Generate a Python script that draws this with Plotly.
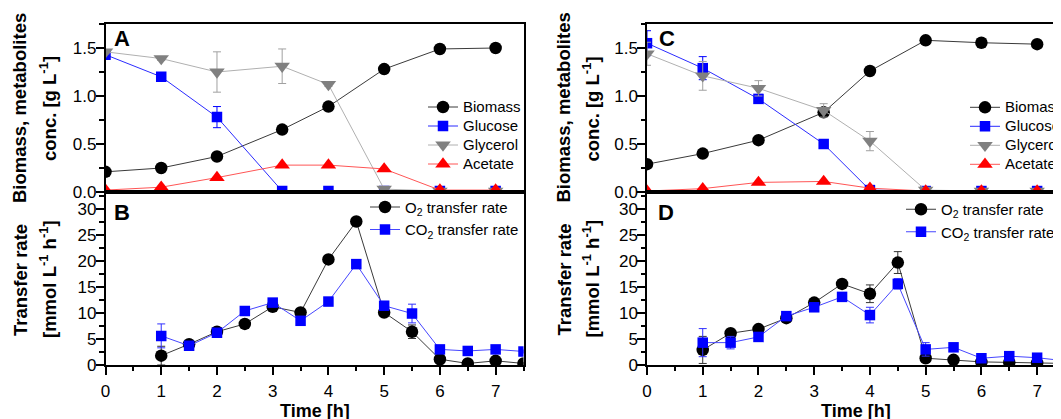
import plotly.graph_objects as go

# ---------------- data ----------------
time_met = [0, 1, 2, 3.17, 4, 5, 6, 7]
time_rate = [1, 1.5, 2, 2.5, 3, 3.5, 4, 4.5, 5, 5.5, 6, 6.5, 7, 7.5]

# Panel A
a_biomass = [0.21, 0.25, 0.37, 0.65, 0.89, 1.28, 1.49, 1.50]
a_biomass_err = [0.01, 0.01, 0.02, 0.02, 0.02, 0.02, 0.02, 0.02]
a_glucose = [1.43, 1.20, 0.78, 0.01, 0.01, 0.01, 0.01, 0.01]
a_glucose_err = [0.02, 0.03, 0.11, 0.01, 0.0, 0.0, 0.0, 0.0]
a_glycerol = [1.46, 1.39, 1.25, 1.31, 1.12, 0.03, 0.01, 0.01]
a_glycerol_err = [0.02, 0.02, 0.21, 0.18, 0.02, 0.01, 0.0, 0.0]
a_acetate = [0.02, 0.05, 0.15, 0.28, 0.28, 0.24, 0.02, 0.02]

# Panel B
b_o2 = [1.8, 4.0, 6.4, 7.9, 11.2, 10.1, 20.3, 27.6, 10.1, 6.4, 1.1, 0.3, 0.8, 0.3]
b_o2_err = [1.8, 0.3, 0.3, 0.3, 0.3, 0.3, 0.3, 0.3, 0.3, 1.3, 0.3, 0.2, 0.2, 0.2]
b_co2 = [5.6, 3.7, 6.2, 10.4, 12.0, 8.5, 12.2, 19.4, 11.4, 9.9, 3.0, 2.7, 3.0, 2.6]
b_co2_err = [2.3, 0.3, 0.3, 0.3, 0.3, 0.3, 0.3, 0.3, 0.5, 1.8, 0.3, 0.3, 0.3, 0.3]

# Panel C
c_biomass = [0.29, 0.40, 0.54, 0.83, 1.26, 1.58, 1.555, 1.54]
c_biomass_err = [0.01, 0.01, 0.02, 0.02, 0.02, 0.02, 0.02, 0.02]
c_glucose = [1.55, 1.29, 0.97, 0.50, 0.02, 0.01, 0.01, 0.01]
c_glucose_err = [0.13, 0.12, 0.04, 0.02, 0.01, 0.0, 0.0, 0.0]
c_glycerol = [1.44, 1.21, 1.08, 0.85, 0.53, 0.02, 0.01, 0.01]
c_glycerol_err = [0.12, 0.15, 0.08, 0.07, 0.10, 0.01, 0.0, 0.0]
c_acetate = [0.01, 0.035, 0.10, 0.11, 0.04, 0.01, 0.01, 0.01]

# Panel D
d_o2 = [2.9, 6.1, 6.9, 9.0, 12.0, 15.6, 13.7, 19.7, 1.3, 1.0, 0.6, 0.5, 0.4, 0.3]
d_o2_err = [2.6, 0.3, 0.3, 0.3, 0.3, 0.3, 1.7, 2.1, 0.3, 0.2, 0.2, 0.2, 0.2, 0.2]
d_co2 = [4.3, 4.3, 5.4, 9.4, 11.1, 13.1, 9.6, 15.6, 3.0, 3.4, 1.3, 1.7, 1.4, 0.8]
d_co2_err = [2.7, 1.2, 0.3, 0.3, 0.3, 0.3, 1.5, 1.0, 1.3, 0.3, 0.3, 0.3, 0.3, 0.3]

met_names = ["Biomass", "Glucose", "Glycerol", "Acetate"]
rate_names = ["O<sub>2</sub> transfer rate", "CO<sub>2</sub> transfer rate"]
panel_letters = ["A", "B", "C", "D"]

# ---------------- layout helpers ----------------
W, H = 1061, 419
OFF = 8  # default page margin of the html body
FONT = "Liberation Sans, Arial, Helvetica, sans-serif"


def fx(p):
    return (p - OFF) / W


def fy(p):
    return 1 - (p - OFF) / H


fig = go.Figure()

met_style = [
    dict(mc="#000000", lc="#3a3a3a", ec="#000000", sym="circle", size=12.5),
    dict(mc="#0000ff", lc="#2b2bff", ec="#0000ff", sym="square", size=10.5),
    dict(mc="#808080", lc="#b0b0b0", ec="#a0a0a0", sym="triangle-down", size=13.5),
    dict(mc="#ff0000", lc="#ff5555", ec="#ff0000", sym="triangle-up", size=13.5),
]
rate_style = [
    dict(mc="#000000", lc="#3a3a3a", ec="#333333", sym="circle", size=12.5),
    dict(mc="#0000ff", lc="#4646ff", ec="#3030ff", sym="square", size=10.5),
]


def add(x, y, err, name, st, xa, ya, legend):
    ed = dict(visible=False)
    if err is not None:
        ed = dict(type="data", array=err, visible=True, color=st["ec"], thickness=1, width=4)
    fig.add_trace(go.Scatter(
        x=x, y=y, mode="lines+markers", name=name,
        line=dict(color=st["lc"], width=1),
        marker=dict(symbol=st["sym"], size=st["size"], color=st["mc"], line=dict(width=0)),
        error_y=ed, xaxis=xa, yaxis=ya, legend=legend,
    ))


def legname(n):
    return '<span style="font-size:15px">' + n + "</span>"


# Panel A
a_series = [(a_biomass, a_biomass_err), (a_glucose, a_glucose_err),
            (a_glycerol, a_glycerol_err), (a_acetate, None)]
for (vals, err), nm, st in zip(a_series, met_names, met_style):
    add(time_met, vals, err, legname(nm), st, "x", "y", "legend")

# Panel B
for (vals, err), nm, st in zip([(b_o2, b_o2_err), (b_co2, b_co2_err)], rate_names, rate_style):
    add(time_rate, vals, err, nm, st, "x2", "y2", "legend2")

# Panel C
c_series = [(c_biomass, c_biomass_err), (c_glucose, c_glucose_err),
            (c_glycerol, c_glycerol_err), (c_acetate, None)]
for (vals, err), nm, st in zip(c_series, met_names, met_style):
    add(time_met, vals, err, legname(nm), st, "x3", "y3", "legend3")

# Panel D
for (vals, err), nm, st in zip([(d_o2, d_o2_err), (d_co2, d_co2_err)], rate_names, rate_style):
    add(time_rate, vals, err, nm, st, "x4", "y4", "legend4")

# ---------------- axes ----------------
TICKFONT = dict(family=FONT, size=17, color="black")
common = dict(showline=True, linecolor="black", linewidth=1.5, showgrid=False, zeroline=False,
              tickcolor="black", tickwidth=1.5, ticklen=8, tickfont=TICKFONT)
minor_x = dict(dtick=0.5, ticklen=4.5, tickwidth=1.5, ticks="outside", tickcolor="black", showgrid=False)
minor_ya = dict(dtick=0.25, ticklen=4.5, tickwidth=1.5, ticks="outside", tickcolor="black")
minor_yb = dict(dtick=2.5, ticklen=4.5, tickwidth=1.5, ticks="outside", tickcolor="black")

dom_left = [fx(105.5), fx(523.5)]
dom_right = [fx(647), fx(1065)]
dom_top = [fy(192), fy(24)]
dom_bot = [fy(365), fy(192)]

fig.update_layout(
    xaxis=dict(common, domain=dom_left, range=[0, 7.5], anchor="y", mirror=True,
               ticks="", showticklabels=False),
    yaxis=dict(common, domain=dom_top, range=[0, 1.75], anchor="x", mirror=True,
               ticks="outside", dtick=0.5, tick0=0, tickformat=".1f", ticklabelstandoff=-4,
               minor=minor_ya),
    xaxis2=dict(common, domain=dom_left, range=[0, 7.5], anchor="y2", mirror=True,
                ticks="outside", dtick=1, tick0=0, minor=minor_x, ticklabelstandoff=2),
    yaxis2=dict(common, domain=dom_bot, range=[0, 33.27], anchor="x2", mirror=True,
                ticks="outside", dtick=5, tick0=0, ticklabelstandoff=-4, minor=minor_yb),
    xaxis3=dict(common, domain=dom_right, range=[0, 7.5], anchor="y3", mirror=True,
                ticks="", showticklabels=False),
    yaxis3=dict(common, domain=dom_top, range=[0, 1.75], anchor="x3", mirror=False,
                ticks="outside", dtick=0.5, tick0=0, tickformat=".1f", ticklabelstandoff=-4,
                minor=minor_ya),
    xaxis4=dict(common, domain=dom_right, range=[0, 7.5], anchor="y4", mirror=True,
                ticks="outside", dtick=1, tick0=0, minor=minor_x, ticklabelstandoff=2),
    yaxis4=dict(common, domain=dom_bot, range=[0, 33.27], anchor="x4", mirror=False,
                ticks="outside", dtick=5, tick0=0, ticklabelstandoff=-4, minor=minor_yb),
)

# ---------------- legends ----------------
leg_common = dict(xref="paper", yref="paper", xanchor="left", yanchor="top",
                  bgcolor="rgba(0,0,0,0)", borderwidth=0, traceorder="normal")
fig.update_layout(
    legend=dict(leg_common, x=fx(423), y=fy(92.5), font=dict(family=FONT, size=12.3, color="black")),
    legend2=dict(leg_common, x=fx(365), y=fy(190.75), font=dict(family=FONT, size=15, color="black")),
    legend3=dict(leg_common, x=fx(965), y=fy(92.8), font=dict(family=FONT, size=12.3, color="black")),
    legend4=dict(leg_common, x=fx(901), y=fy(193.0), font=dict(family=FONT, size=15, color="black")),
)

# ---------------- annotations ----------------
ann = []


def text_ann(txt, x, y, size, angle=0):
    ann.append(dict(text=txt, x=fx(x), y=fy(y), xref="paper", yref="paper",
                    xanchor="center", yanchor="middle", showarrow=False, textangle=angle,
                    font=dict(family=FONT, size=size, color="black")))


for x0 in (20, 563.5):
    text_ann("<b>Biomass, metabolites</b>", x0, 108, 18.5, -90)
    text_ann("<b>Transfer rate</b>", x0, 280, 18.5, -90)
for x0 in (48, 591.5):
    text_ann("<b>conc. [g L<sup>-1</sup>]</b>", x0, 109, 18.5, -90)
    text_ann("<b>[mmol L<sup>-1</sup> h<sup>-1</sup>]</b>", x0, 279, 18.5, -90)

text_ann("<b>Time [h]</b>", 315, 411, 18)
text_ann("<b>Time [h]</b>", 855.5, 411, 18)

for letter, (lx, ly) in zip(panel_letters, [(122, 38), (121.5, 212.5), (666.5, 38), (665.5, 212.5)]):
    text_ann("<b>" + letter + "</b>", lx, ly, 22)

fig.update_layout(
    annotations=ann,
    width=W, height=H,
    margin=dict(l=0, r=0, t=0, b=0, autoexpand=False),
    paper_bgcolor="white", plot_bgcolor="white",
    font=dict(family=FONT, color="black"),
    showlegend=True,
)

fig.write_html("out.html")
